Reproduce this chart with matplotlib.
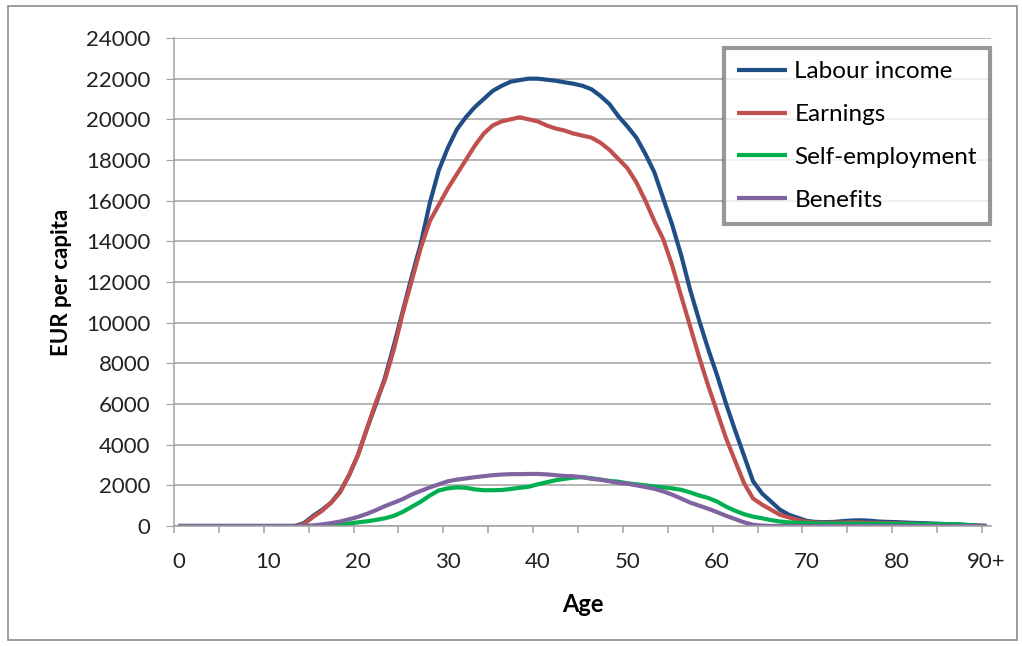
import matplotlib
matplotlib.use("Agg")
import matplotlib.pyplot as plt
from matplotlib.patches import Rectangle
import numpy as np

# age groups 0..90 (last one is 90+)
ages = list(range(91))
age_labels = ["0", "10", "20", "30", "40", "50", "60", "70", "80", "90+"]

labour_income = [0] * 14 + [
    150, 500, 800, 1150, 1700, 2500, 3500, 4800, 6000, 7300,          # 14-23
    8900, 10600, 12300, 13900, 15900, 17500, 18600, 19500, 20100, 20600,  # 24-33
    21000, 21400, 21650, 21850, 21930, 22000, 22000, 21950, 21900, 21820,  # 34-43
    21750, 21650, 21480, 21150, 20750, 20150, 19650, 19100, 18300, 17400,  # 44-53
    16100, 14800, 13300, 11600, 10100, 8700, 7400, 6000, 4700, 3450,      # 54-63
    2200, 1600, 1200, 800, 550, 400, 250, 200, 190, 200,                  # 64-73
    240, 270, 280, 260, 220, 200, 190, 170, 150, 140,                     # 74-83
    120, 100, 90, 70, 40, 20, 0]                                          # 84-90

earnings = [0] * 14 + [
    100, 450, 750, 1150, 1650, 2500, 3500, 4800, 6100, 7200,
    8700, 10500, 12100, 13700, 15000, 15800, 16600, 17300, 18000, 18700,
    19300, 19700, 19900, 20000, 20100, 20000, 19900, 19700, 19550, 19450,
    19300, 19200, 19100, 18850, 18500, 18050, 17600, 16900, 16000, 15000,
    14100, 12800, 11300, 9800, 8300, 6900, 5600, 4300, 3200, 2100,
    1350, 1050, 800, 550, 420, 300, 200, 170, 160, 160,
    170, 180, 170, 160, 150, 140, 130, 120, 110, 100,
    90, 80, 70, 60, 40, 20, 0]

self_employment = [0] * 17 + [
    20, 60, 120, 180, 230, 300, 380,
    500, 700, 950, 1200, 1500, 1750, 1850, 1900, 1880, 1800,
    1760, 1760, 1770, 1820, 1880, 1930, 2050, 2150, 2250, 2320,
    2380, 2400, 2350, 2280, 2220, 2180, 2100, 2050, 2000, 1950,
    1900, 1850, 1780, 1650, 1500, 1380, 1200, 950, 750, 580,
    460, 380, 290, 220, 180, 160, 150, 130, 120, 120,
    120, 120, 110, 110, 110, 110, 100, 100, 100, 100,
    100, 100, 90, 80, 50, 20, 0]

benefits = [0] * 15 + [
    30, 80, 140, 220, 330, 450, 600, 780, 980,
    1150, 1330, 1550, 1730, 1900, 2050, 2200, 2280, 2340, 2400,
    2450, 2500, 2530, 2550, 2550, 2560, 2560, 2540, 2500, 2460,
    2450, 2400, 2320, 2280, 2200, 2120, 2080, 2000, 1920, 1830,
    1700, 1540, 1350, 1150, 1000, 850, 680, 500, 340, 180,
    60, 20] + [0] * 25

series = [
    ("Labour income", labour_income, "#1f4e85"),
    ("Earnings", earnings, "#c0504d"),
    ("Self-employment", self_employment, "#00b050"),
    ("Benefits", benefits, "#8064a2"),
]

plt.rcParams["font.family"] = ["Lato", "DejaVu Sans"]

fig = plt.figure(figsize=(10.22, 6.46), dpi=100)
ax = fig.add_axes([174 / 1022, 120 / 646, 817 / 1022, 488 / 646])

for name, vals, col in series:
    ax.plot(ages, vals, color=col, lw=3.0, label=name, solid_capstyle="butt")

ax.set_xlim(-0.5, 90.5)
ax.set_ylim(0, 24000)
ax.set_yticks(np.arange(0, 24001, 2000))
ax.set_xticks(np.arange(0, 91, 10))
ax.set_xticklabels(age_labels)
ax.set_xticks(np.arange(-0.5, 91, 5), minor=True)

grey = "#a0a0a0"
ax.grid(axis="y", color=grey, lw=1.1)
ax.set_axisbelow(True)
for s in ["top", "right"]:
    ax.spines[s].set_visible(False)
for s in ["left", "bottom"]:
    ax.spines[s].set_color(grey)
    ax.spines[s].set_linewidth(1.1)

ax.tick_params(axis="y", which="major", length=6, color=grey, pad=11,
               labelsize=16, labelcolor="#222222")
ax.tick_params(axis="x", which="major", length=0, pad=19,
               labelsize=16, labelcolor="#222222")
ax.tick_params(axis="x", which="minor", length=5, color=grey, width=1.1)

ax.set_xlabel("Age", fontsize=17, fontweight="bold", labelpad=15)
ax.set_ylabel("EUR per capita", fontsize=16, fontweight="bold", labelpad=10)

leg = ax.legend(loc="upper right", bbox_to_anchor=(0.999, 0.98), fontsize=17.5,
                frameon=True, fancybox=False, handlelength=2.05,
                handletextpad=0.3, labelspacing=0.9, borderpad=0.55,
                borderaxespad=0)
leg.get_frame().set_edgecolor("#7f7f7f")
leg.get_frame().set_linewidth(3)

# chart area border
fig.patches.append(Rectangle((8 / 1022, 6 / 646), 1009 / 1022, 634 / 646,
                             transform=fig.transFigure, fill=False,
                             edgecolor="#8c8c8c", lw=1.2))

fig.savefig("out.png", dpi=100)
